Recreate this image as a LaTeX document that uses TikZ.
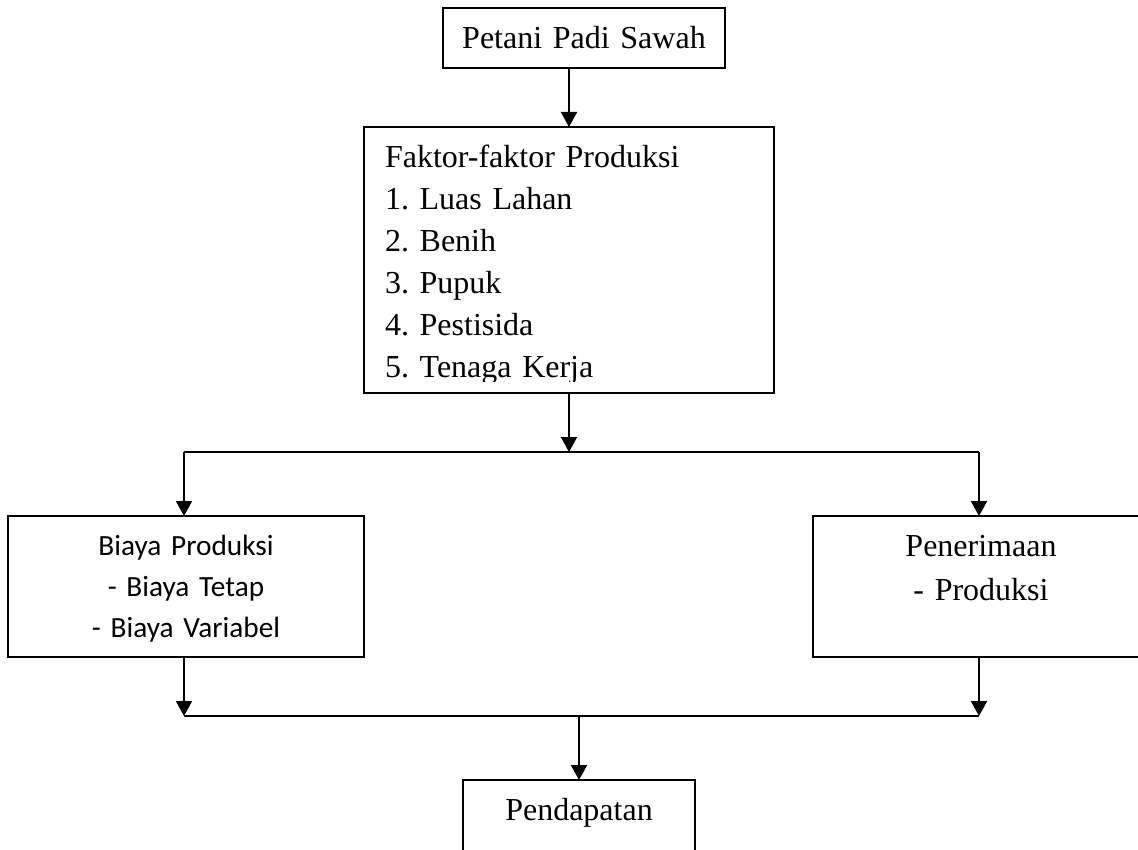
\documentclass[tikz,border=0pt]{standalone}
\usepackage{fontspec}
\setmainfont{Liberation Serif}
\newfontfamily\carlito{Carlito}
\usetikzlibrary{arrows.meta}
\frenchspacing
\tikzset{
  box/.style={draw=black, line width=2pt, rectangle, anchor=north west,
    inner ysep=0pt, inner xsep=5pt, outer sep=0pt},
  serif/.style={font=\frenchspacing\fontsize{32}{42}\selectfont},
  arr/.style={line width=2pt, -{Triangle[length=15pt,width=16pt]}},
  conn/.style={line width=2pt}
}
\begin{document}
\begin{tikzpicture}[x=1pt,y=-1pt]
\clip (0,0) rectangle (1138,850);
\fill[white] (0,0) rectangle (1138,850);

\node[box, serif, text width=272pt, align=center, text height=41pt, text depth=19pt]
  (petani) at (443,8) {Petani Padi Sawah};

\node[box, serif, inner xsep=21pt, text width=368pt, align=left, text height=41pt, text depth=225pt]
  (faktor) at (364,127) {Faktor-faktor Produksi\\1. Luas Lahan\\2. Benih\\3. Pupuk\\4. Pestisida\\5. Tenaga Kerja};
\fill[white] (366,381.5) rectangle (772,391.9);

\node[box, font=\frenchspacing\carlito\fontsize{29.3}{41}\selectfont, text width=346pt, align=center, text height=39pt, text depth=102pt]
  (biaya) at (8,516) {Biaya Produksi\\- Biaya Tetap\\- Biaya Variabel};

\node[box, font=\frenchspacing\fontsize{32}{44}\selectfont, text width=326pt, align=center, text height=40pt, text depth=101pt]
  (pener) at (813,516) {Penerimaan\\- Produksi};

\node[box, serif, text width=222pt, align=center, text height=40pt, text depth=60pt]
  (pend) at (463,780) {Pendapatan};

\coordinate (jm) at (569,452);
\coordinate (jl) at (184,452);
\coordinate (jr) at (979,452);
\coordinate (bl) at (184,716);
\coordinate (br) at (979,716);
\coordinate (bm) at (579,716);

\draw[arr] (petani.south -| faktor.north) -- (faktor.north);
\draw[arr] (faktor.south) -- (jm);
\draw[conn] (jl) -- (jr);
\draw[arr] (jl) -- (jl |- biaya.north);
\draw[arr] (jr) -- (jr |- pener.north);
\draw[arr] (biaya.south -| bl) -- (bl);
\draw[arr] (pener.south -| br) -- (br);
\draw[conn] (bl) -- (br);
\draw[arr] (bm) -- (bm |- pend.north);
\end{tikzpicture}
\end{document}
